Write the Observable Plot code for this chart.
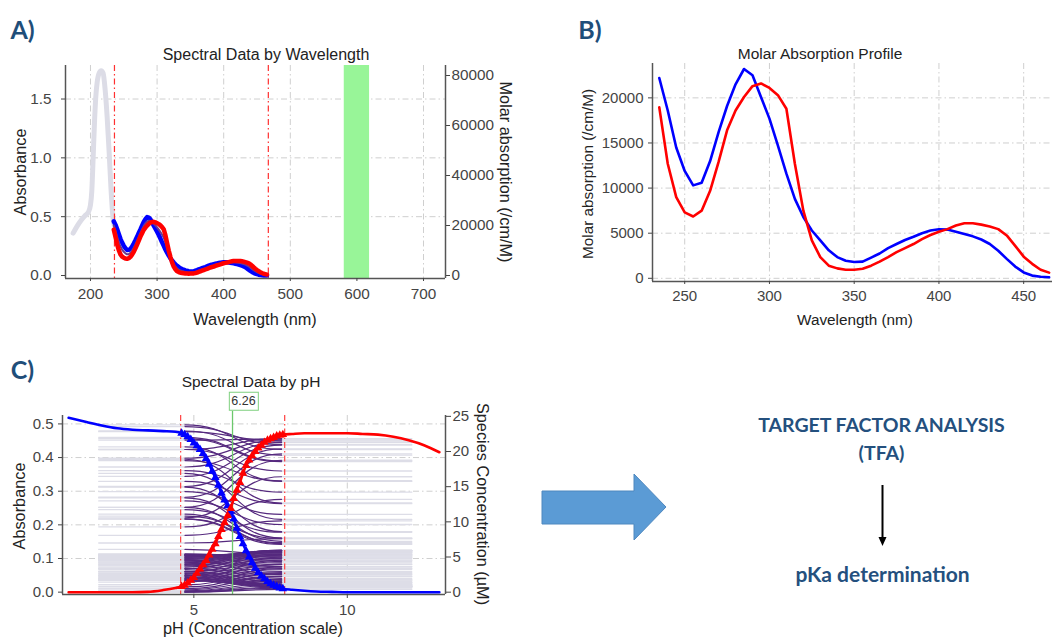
<!DOCTYPE html>
<html><head><meta charset="utf-8">
<script src="https://cdn.jsdelivr.net/npm/d3@7"></script>
<script src="https://cdn.jsdelivr.net/npm/@observablehq/plot@0.6"></script>
<style>
body{margin:0;background:#fff;}
#root{position:relative;width:1052px;height:639px;overflow:hidden;background:#fff;}
</style></head><body><div id="root"></div>
<script>
// ---------- Panel A : spectra by wavelength ----------
const aGreyNm  = [174, 180, 186, 192, 197, 200, 202, 204, 206, 208, 210, 213, 216, 219, 222, 225, 228, 231, 234, 236];
const aGreyAbs = [0.36, 0.42, 0.47, 0.51, 0.54, 0.60, 0.72, 1.00, 1.30, 1.52, 1.64, 1.72, 1.74, 1.72, 1.58, 1.35, 1.05, 0.72, 0.48, 0.42];
const spectraNm = [235,237.5,240,242.5,245,247.5,250,252.5,255,257.5,
  260,262.5,265,267.5,270,272.5,275,277.5,280,282.5,
  285,287.5,290,292.5,295,297.5,300,302.5,305,307.5,
  310,312.5,315,317.5,320,322.5,325,327.5,330,332.5,
  335,337.5,340,342.5,345,347.5,350,352.5,355,357.5,
  360,362.5,365,367.5,370,372.5,375,377.5,380,382.5,
  385,387.5,390,392.5,395,397.5,400,402.5,405,407.5,
  410,412.5,415,417.5,420,422.5,425,427.5,430,432.5,
  435,437.5,440,442.5,445,447.5,450,452.5,455,457.5,
  460,462.5,465];
const acidAbs = [0.460,0.432,0.395,0.353,0.312,0.280,0.252,0.232,0.217,0.218,
  0.226,0.245,0.271,0.299,0.329,0.361,0.391,0.424,0.456,0.479,
  0.497,0.492,0.477,0.452,0.424,0.398,0.372,0.344,0.314,0.282,
  0.252,0.221,0.194,0.169,0.146,0.127,0.110,0.095,0.082,0.071,
  0.062,0.055,0.049,0.044,0.040,0.037,0.035,0.035,0.036,0.041,
  0.046,0.052,0.057,0.062,0.067,0.072,0.078,0.084,0.089,0.093,
  0.097,0.100,0.103,0.106,0.109,0.111,0.113,0.113,0.112,0.110,
  0.108,0.105,0.103,0.100,0.097,0.093,0.089,0.084,0.078,0.070,
  0.060,0.049,0.039,0.030,0.022,0.016,0.011,0.007,0.004,0.002,
  0.001,0.000,0.000];
const baseAbs = [0.390,0.329,0.265,0.216,0.180,0.161,0.151,0.144,0.142,0.147,
  0.159,0.178,0.201,0.231,0.263,0.297,0.331,0.360,0.388,0.407,
  0.424,0.439,0.449,0.455,0.456,0.452,0.445,0.437,0.426,0.411,
  0.392,0.343,0.276,0.212,0.159,0.112,0.076,0.053,0.036,0.029,
  0.023,0.021,0.019,0.017,0.016,0.015,0.016,0.017,0.018,0.021,
  0.025,0.031,0.036,0.041,0.046,0.051,0.056,0.062,0.068,0.072,
  0.076,0.082,0.087,0.091,0.095,0.100,0.104,0.107,0.110,0.114,
  0.118,0.121,0.124,0.124,0.124,0.124,0.123,0.121,0.118,0.114,
  0.110,0.104,0.095,0.083,0.070,0.058,0.047,0.037,0.028,0.021,
  0.015,0.012,0.008];
const aWindowNm = [236, 467];
const aGreenBand = [[581, 619]];
const aXTicks = [200, 300, 400, 500, 600, 700];
const aYTicks = [0, 0.5, 1.0, 1.5];
const aMolarTicks = [0, 20000, 40000, 60000, 80000];

// ---------- Panel B : molar absorption profile ----------
const bNm = [235,240,245,250,255,260,265,270,275,280,285,290,295,300,305,310,315,320,325,330,
  335,340,345,350,355,360,365,370,375,380,385,390,395,400,405,410,415,420,425,430,435,440,445,450,455,460,465];
const bAcid = [22200,18600,14500,11900,10300,10600,13000,16200,19100,21500,
  23200,22500,20100,17700,14700,11600,8800,6800,5300,4200,
  3100,2350,1950,1800,1850,2300,2750,3350,3800,4250,
  4600,5000,5300,5430,5400,5170,4900,4650,4300,3800,
  3050,2150,1300,650,300,180,110];
const bBase = [18950,12700,9000,7300,6850,7500,9700,12900,16400,18600,
  20100,21300,21600,21100,20300,18800,12700,7500,4200,2350,
  1400,1100,950,950,1050,1400,1850,2350,2900,3350,
  3800,4350,4800,5150,5450,5850,6100,6100,5950,5750,
  5450,4750,3600,2400,1600,950,630];
const bXTicks = [250, 300, 350, 400, 450];
const bYTicks = [0, 5000, 10000, 15000, 20000];

// ---------- Panel C : spectral data by pH ----------
const cGreyLeftPh = [1.9, 4.68];
const cWindowLinePh = [4.71, 7.86];
const cGreyRightPh = [7.9, 12.1];
const cWindowPh = [4.57, 7.96];
const pKa = [6.26];
const concPh = [0.92,1.5,2.0,2.5,3.0,3.5,4.0,4.4,4.6,4.7,4.8,4.9,5.0,5.1,5.2,5.3,5.4,5.5,5.6,5.7,5.8,5.9,6.0,6.1,6.2,6.3,6.4,6.5,6.6,6.7,6.8,6.9,7.0,7.1,7.2,7.3,7.4,7.5,7.6,7.7,7.8,7.9,8.2,8.6,9.0,9.5,10.0,10.5,11.0,11.5,12.0,12.5,13.0];
const concAcid = [24.8,24.2,23.7,23.3,23.1,23.0,22.9,22.8,22.6,22.4,22.1,21.7,21.2,20.8,20.3,19.7,19.0,18.2,17.2,16.3,15.2,14.1,13.1,12.3,11.5,10.4,9.1,7.9,6.9,5.9,5.0,4.2,3.4,2.8,2.3,1.9,1.5,1.2,1.0,0.8,0.6,0.5,0.35,0.2,0.1,0.05,0,0,0,0,0,0,0];
const concBase = [0,0,0,0,0,0.05,0.3,0.6,0.8,1.0,1.3,1.7,2.1,2.7,3.3,3.9,4.5,5.3,6.1,6.9,7.9,8.9,9.9,10.9,11.9,13.3,14.5,15.6,16.9,18.0,18.8,19.4,20.0,20.5,20.9,21.3,21.6,21.8,22.0,22.2,22.3,22.4,22.5,22.6,22.6,22.6,22.6,22.5,22.4,22.1,21.6,20.9,19.9];
const cXTicks = [5, 10];
const cYTicks = [0, 0.1, 0.2, 0.3, 0.4, 0.5];
const cConcTicks = [0, 5, 10, 15, 20, 25];

// ---------- helpers ----------
const root = document.getElementById("root");
const SANS = "'Liberation Sans', Arial, sans-serif";
const gridOpts = {stroke: "#cfcfcf", strokeOpacity: 1, strokeWidth: 1, strokeDasharray: "6,3,1.5,3"};
const axisColor = "#444";
const axisLine = {stroke: "#555", strokeWidth: 1.5};
function style(size) {
  return {fontFamily: SANS, fontSize: size + "px", color: "#333", background: "transparent", overflow: "visible"};
}
function place(el, left, top) {
  el.style.position = "absolute"; el.style.left = left + "px"; el.style.top = top + "px";
  root.appendChild(el);
}
function label(text, x, y, o = {}) {
  const d = document.createElement("div");
  d.textContent = text;
  d.style.cssText = `position:absolute;left:${x}px;top:${y}px;white-space:nowrap;line-height:1;` +
    `transform:translate(-50%,-50%)${o.rot ? ` rotate(${o.rot}deg)` : ""};font-size:${o.size || 16}px;` +
    `color:${o.color || "#222"};font-family:${o.family || SANS};font-weight:${o.weight || 400};`;
  root.appendChild(d);
  return d;
}

// ---------- Panel A ----------
const aX = [162.5, 733], aY = [-0.0255, 1.785];
const A1 = Plot.plot({
  width: 530, height: 300, marginLeft: 65, marginRight: 85, marginTop: 25, marginBottom: 62,
  style: style(15.3),
  x: {domain: aX},
  y: {domain: aY},
  marks: [
    Plot.gridX(aXTicks, gridOpts),
    Plot.gridY(aYTicks.filter(d => d > 0), gridOpts),
    Plot.rect(aGreenBand, {x1: d => d[0], x2: d => d[1], fill: "#98f598"}),
    Plot.line(aGreyNm, {x: d => d, y: (d, i) => aGreyAbs[i], stroke: "#dcdce6", strokeWidth: 5, curve: "monotone-x"}),
    Plot.ruleX(aWindowNm, {stroke: "#ff3030", strokeWidth: 1.2, strokeDasharray: "6,3,1.5,3"}),
    Plot.line(spectraNm, {x: d => d, y: (d, i) => acidAbs[i], stroke: "#0000ff", strokeWidth: 4.5}),
    Plot.line(spectraNm, {x: d => d, y: (d, i) => (acidAbs[i] + baseAbs[i]) / 2, stroke: "#6a3a8f", strokeWidth: 2}),
    Plot.line(spectraNm, {x: d => d, y: (d, i) => baseAbs[i], stroke: "#ff0000", strokeWidth: 4.5}),
    Plot.ruleX([aX[0], aX[1]], axisLine),
    Plot.ruleY([aY[0]], axisLine),
    Plot.axisX(aXTicks, {tickSize: 3, tickPadding: 7, label: null, color: axisColor}),
    Plot.axisY(aYTicks, {tickSize: 4, tickPadding: 10, label: null, color: axisColor, tickFormat: d3.format(".1f")})
  ]
});
place(A1, 0, 40);
const A2 = Plot.plot({
  width: 530, height: 300, marginLeft: 65, marginRight: 85, marginTop: 25, marginBottom: 62,
  style: style(15.3),
  y: {domain: [-1200, 84000]},
  marks: [
    Plot.axisY(aMolarTicks, {anchor: "right", tickSize: 4, tickPadding: 2, label: null, color: axisColor, tickFormat: "d"})
  ]
});
place(A2, 0, 40);
label("Spectral Data by Wavelength", 266, 55, {size: 16});
label("Wavelength (nm)", 255, 319, {size: 16.3});
label("Absorbance", 19.5, 172, {size: 16.3, rot: -90});
label("Molar absorption (/cm/M)", 506, 172, {size: 16.3, rot: 90});

// ---------- Panel B ----------
const bX = [231, 467], bY = [-355, 23810];
const B = Plot.plot({
  width: 492, height: 300, marginLeft: 92, marginRight: 0, marginTop: 23, marginBottom: 59,
  style: style(15),
  x: {domain: bX},
  y: {domain: bY},
  marks: [
    Plot.gridX(bXTicks, gridOpts),
    Plot.gridY(bYTicks, gridOpts),
    Plot.line(bNm, {x: d => d, y: (d, i) => bAcid[i], stroke: "#0000ff", strokeWidth: 2.6}),
    Plot.line(bNm, {x: d => d, y: (d, i) => bBase[i], stroke: "#ff0000", strokeWidth: 2.6}),
    Plot.ruleX([bX[0]], axisLine),
    Plot.ruleY([bY[0]], axisLine),
    Plot.axisX(bXTicks, {tickSize: 3, tickPadding: 6, label: null, color: axisColor}),
    Plot.axisY(bYTicks, {tickSize: 4, tickPadding: 5, label: null, color: axisColor, tickFormat: "d"})
  ]
});
place(B, 560, 40);
label("Molar Absorption Profile", 820, 54, {size: 15.5});
label("Wavelength (nm)", 855, 320, {size: 15.3});
label("Molar absorption (/cm/M)", 588, 173.5, {size: 15.3, rot: -90});

// ---------- Panel C ----------
const greyRows = [], purpleRows = [];
spectraNm.forEach((nm, i) => {
  cGreyLeftPh.forEach(ph => greyRows.push({key: "L" + nm, ph, a: acidAbs[i]}));
  cGreyRightPh.forEach(ph => greyRows.push({key: "R" + nm, ph, a: baseAbs[i]}));
  purpleRows.push({nm, ph: cWindowLinePh[0], a: acidAbs[i]});
  purpleRows.push({nm, ph: cWindowLinePh[1], a: baseAbs[i]});
});
const cX = [0.72, 13.2], cY = [-0.007, 0.525];
const C1 = Plot.plot({
  width: 500, height: 254, marginLeft: 62, marginRight: 55, marginTop: 30, marginBottom: 45,
  style: style(15),
  x: {domain: cX},
  y: {domain: cY},
  marks: [
    Plot.gridX(cXTicks, gridOpts),
    Plot.gridY(cYTicks.filter(d => d > 0), gridOpts),
    Plot.line(greyRows, {x: "ph", y: "a", z: "key", stroke: "#dddde7", strokeWidth: 1.3}),
    Plot.line(purpleRows, {x: "ph", y: "a", z: "nm", stroke: "#55297e", strokeWidth: 1.2, curve: "bump-x"}),
    Plot.ruleX(cWindowPh, {stroke: "#ff4040", strokeWidth: 1.2, strokeDasharray: "6,3,1.5,3"}),
    Plot.ruleX(pKa, {stroke: "#6cc86c", strokeWidth: 1.3, insetTop: -5}),
    Plot.ruleX([cX[0], cX[1]], axisLine),
    Plot.ruleY([cY[0]], axisLine),
    Plot.axisX(cXTicks, {tickSize: 4, tickPadding: 6, label: null, color: axisColor}),
    Plot.axisY(cYTicks, {tickSize: 4, tickPadding: 5, label: null, color: axisColor, tickFormat: d3.format(".1f")})
  ]
});
place(C1, 0, 385);
const concRows = concPh.map((ph, i) => ({ph, acid: concAcid[i], base: concBase[i]}));
const inWin = concRows.filter(d => d.ph >= 4.6 && d.ph <= 7.9);
const C2 = Plot.plot({
  width: 500, height: 254, marginLeft: 62, marginRight: 55, marginTop: 30, marginBottom: 45,
  style: style(15),
  x: {domain: cX, axis: null},
  y: {domain: [-0.33, 25.12]},
  marks: [
    Plot.line(concRows, {x: "ph", y: "acid", stroke: "#0000ff", strokeWidth: 2.6, curve: "monotone-x"}),
    Plot.line(concRows, {x: "ph", y: "base", stroke: "#ff0000", strokeWidth: 2.6, curve: "monotone-x"}),
    Plot.dot(inWin, {x: "ph", y: "acid", symbol: "triangle", r: 3.2, fill: "#0000ff"}),
    Plot.dot(inWin, {x: "ph", y: "base", symbol: "triangle", r: 3.2, fill: "#ff0000"}),
    Plot.axisY(cConcTicks, {anchor: "right", tickSize: 5, tickPadding: 2, label: null, color: axisColor})
  ]
});
place(C2, 0, 385);
label("Spectral Data by pH", 251, 382, {size: 15.5});
label("pH (Concentration scale)", 253, 628, {size: 16.3});
label("Absorbance", 19, 506, {size: 16.3, rot: -90});
label("Species Concentration (µM)", 483, 504, {size: 16.3, rot: 90});
const pk = label(String(pKa[0]), 243.5, 401, {size: 12.5, color: "#333"});
pk.style.border = "1.2px solid #7fd07f";
pk.style.padding = "2px 2px";
pk.style.background = "#fff";

// ---------- Panel tags and flow diagram ----------
const TAG = {size: 25, weight: 700, family: "Lato, 'Open Sans', sans-serif", color: "#1f4e79"};
label("A)", 22.5, 29, TAG);
label("B)", 590, 29, TAG);
label("C)", 22.5, 369, TAG);

const ns = "http://www.w3.org/2000/svg";
const deco = document.createElementNS(ns, "svg");
deco.setAttribute("width", 1052); deco.setAttribute("height", 639);
deco.style.cssText = "position:absolute;left:0;top:0;pointer-events:none;";
deco.innerHTML =
  '<polygon points="542,491 634,491 634,474 666,507 634,540 634,524 542,524" fill="#5b9bd5" stroke="#4f88bf" stroke-width="1"/>' +
  '<line x1="882.5" y1="485" x2="882.5" y2="539" stroke="#000" stroke-width="2"/>' +
  '<polygon points="878.5,537 886.5,537 882.5,546" fill="#000"/>';
root.appendChild(deco);
const FLOW = {weight: 700, family: "Lato, 'Open Sans', sans-serif", color: "#24507e"};
label("TARGET FACTOR ANALYSIS", 881.5, 425, {...FLOW, size: 19.5});
label("(TFA)", 881.5, 453, {...FLOW, size: 19.5});
label("pKa determination", 882.5, 573, {...FLOW, size: 21});
</script>
</body></html>
